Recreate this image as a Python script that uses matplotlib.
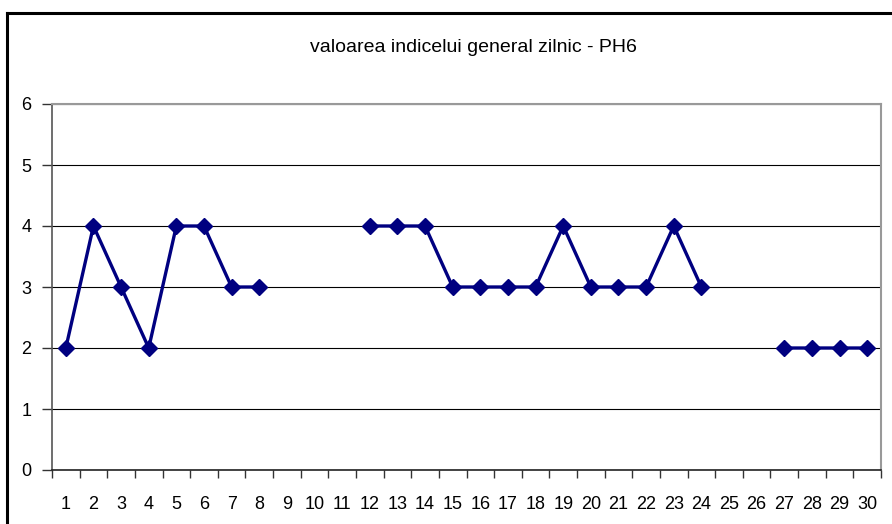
import matplotlib
matplotlib.use("Agg")
import matplotlib.pyplot as plt
import numpy as np
from matplotlib.lines import Line2D

plt.rcParams['font.family'] = ['Liberation Sans', 'DejaVu Sans']

title = "valoarea indicelui general zilnic - PH6"
days = list(range(1, 31))
values = [2, 4, 3, 2, 4, 4, 3, 3, None, None, None,
          4, 4, 4, 3, 3, 3, 3, 4, 3, 3, 3, 4, 3,
          None, None, 2, 2, 2, 2]
y_ticks = [0, 1, 2, 3, 4, 5, 6]

W, H = 892, 524
fig = plt.figure(figsize=(W / 100, H / 100), dpi=100)
ax = fig.add_axes([52 / W, 1 - 470 / H, (881 - 52) / W, (470 - 104) / H])

y = np.array([np.nan if v is None else v for v in values], dtype=float)
x = np.arange(len(days))
ax.plot(x, y, color='#000080', linewidth=2.4, marker='D', markersize=7.8,
        markerfacecolor='#000080', markeredgecolor='#000080', zorder=3)

ax.set_xlim(-0.5, len(days) - 0.5)
ax.set_ylim(0, 6)
ax.set_yticks(y_ticks)
ax.set_yticklabels([str(t) for t in y_ticks], fontsize=13)
ax.yaxis.grid(True, color='black', linewidth=0.8)
ax.set_axisbelow(True)

# category labels centered, ticks at boundaries
ax.set_xticks(np.arange(-0.5, len(days) + 0.5, 1.0))
ax.set_xticklabels([])
ax.set_xticks(x, minor=True)
ax.set_xticklabels([str(d) for d in days], minor=True, fontsize=13)
ax.tick_params(axis='x', which='minor', length=0, pad=19)
ax.tick_params(axis='x', which='major', length=6, width=1, color='#333333', direction='out')
ax.tick_params(axis='y', length=7, width=1, color='#333333', pad=8)

for side in ['top', 'right']:
    ax.spines[side].set_color('#999999')
    ax.spines[side].set_linewidth(1.5)
ax.spines['left'].set_color('#555555')
ax.spines['left'].set_linewidth(1.2)
ax.spines['bottom'].set_color('#222222')
ax.spines['bottom'].set_linewidth(1.2)

fig.text(473 / W, 1 - 48 / H, title, ha='center', va='center', fontsize=14)

# figure border (top and left visible)
fig.add_artist(Line2D([7 / W, 1.0], [1 - 13 / H, 1 - 13 / H], transform=fig.transFigure,
                      color='black', linewidth=2.2))
fig.add_artist(Line2D([7 / W, 7 / W], [0.0, 1 - 13 / H], transform=fig.transFigure,
                      color='black', linewidth=2.2))

fig.savefig("out.png", dpi=100)
